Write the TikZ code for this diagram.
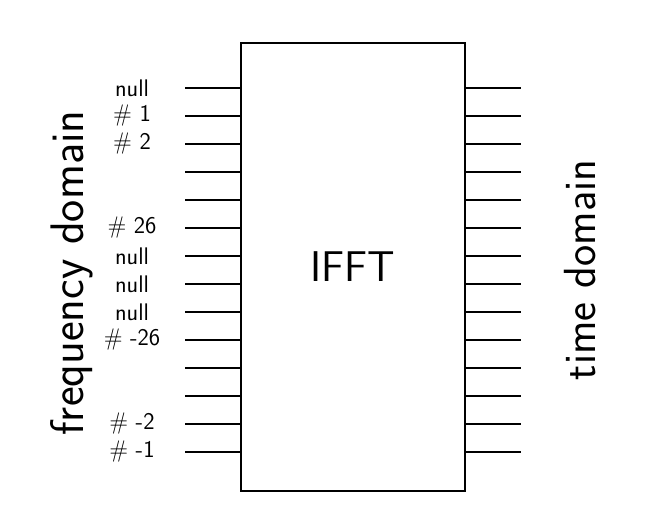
\documentclass[tikz,border=0pt]{standalone}
\begin{document}
\begin{tikzpicture}[x=1pt,y=-1pt,
  port/.style={line width=1.2pt},
  lab/.style={font=\sffamily\fontsize{24}{26}\selectfont, inner sep=0pt, anchor=center},
  big/.style={font=\sffamily\fontsize{45}{50}\selectfont, inner sep=0pt}]
\useasboundingbox (0,0) rectangle (656,510);
\node[draw, line width=1.2pt, minimum width=224pt, minimum height=448pt, inner sep=0pt,
  font=\sffamily\fontsize{43}{48}\selectfont] (ifft) at (353,267) {IFFT};
\foreach \i in {0,...,13} {
  \coordinate (l\i) at (185,{88+28*\i});
  \coordinate (r\i) at (521,{88+28*\i});
  \draw[port] (l\i) -- (l\i -| ifft.west);
  \draw[port] (r\i -| ifft.east) -- (r\i);
}
\foreach \i/\t in {0/null,1/\# 1,2/\# 2,5/\# 26,6/null,7/null,8/null,9/\# -26,12/\# -2,13/\# -1} {
  \node[lab] (t\i) at ([xshift=-53pt]l\i) {\t};
}
\node[big, rotate=90, font=\sffamily\fontsize{47}{52}\selectfont] (fd) at (72,273) {frequency domain};
\node[big, rotate=90] (td) at (580,270) {time domain};
\end{tikzpicture}
\end{document}
